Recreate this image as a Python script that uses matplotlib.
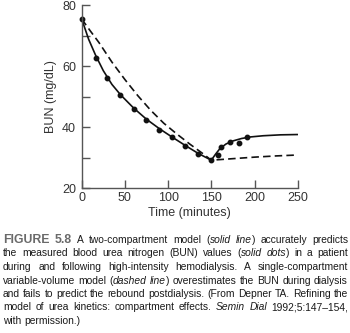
import matplotlib
matplotlib.use("Agg")
import matplotlib.pyplot as plt
from matplotlib import font_manager as fm
from matplotlib.font_manager import FontProperties
from matplotlib.ticker import MultipleLocator

# ---------------- data ----------------
dot_t = [0, 16, 29, 44, 60, 74.5, 89.5, 104, 120, 134.6, 150, 157.4, 161.6, 171.7, 181.7, 191.7]
dot_bun = [75.4, 62.7, 56.0, 50.4, 46.1, 42.3, 39.1, 36.9, 34.0, 31.2, 29.2, 30.9, 33.6, 35.3, 34.7, 36.9]

solid_t = [0, 8, 16, 25, 35, 45, 60, 75, 90, 105, 120, 135, 150, 155, 160, 167, 175, 185, 195, 210, 230, 250]
solid_bun = [75.4, 68.8, 63.6, 58.5, 54.0, 50.6, 46.3, 42.6, 39.5, 36.7, 34.0, 31.4, 29.2,
             31.2, 33.0, 34.5, 35.5, 36.3, 36.8, 37.2, 37.5, 37.6]

dashed_t = [0, 10, 20, 35, 50, 65, 80, 95, 110, 125, 140, 150, 175, 200, 225, 250]
dashed_bun = [75.4, 71.5, 67.7, 61.3, 55.6, 50.3, 45.5, 41.3, 37.8, 34.5, 31.4, 29.2,
              29.7, 30.2, 30.6, 30.9]

x_ticks = [0, 50, 100, 150, 200, 250]
y_ticks = [20, 40, 60, 80]
x_label = "Time (minutes)"
y_label = "BUN (mg/dL)"

caption_lines = [
    "#FIGURE 5.8# A two-compartment model (_solid line_) accurately predicts",
    "the measured blood urea nitrogen (BUN) values (_solid dots_) in a patient",
    "during and following high-intensity hemodialysis. A single-compartment",
    "variable-volume model (_dashed line_) overestimates the BUN during dialysis",
    "and fails to predict the rebound postdialysis. (From Depner TA. Refining the",
    "model of urea kinetics: compartment effects. _Semin Dial_ 1992;5:147\u2013154,",
    "with permission.)",
]

# ---------------- figure ----------------
W, H = 350, 333
fig = plt.figure(figsize=(W / 100, H / 100), dpi=100)
ax = fig.add_axes([81.7 / W, 1 - 188.3 / H, 216 / W, 183.3 / H])

axis_col = "#555555"
text_col = "#333333"
plot_font = "Liberation Sans"

ax.plot(solid_t, solid_bun, color="#111111", lw=1.2, solid_capstyle="round")
ax.plot(dashed_t, dashed_bun, color="#111111", lw=1.2, dashes=(4.5, 2.5))
ax.plot(dot_t, dot_bun, "o", color="#111111", ms=3.2, clip_on=False)

ax.set_xlim(0, 250)
ax.set_ylim(20, 80)
ax.set_xticks(x_ticks)
ax.set_yticks(y_ticks)
ax.yaxis.set_minor_locator(MultipleLocator(10))
for s in ["top", "right"]:
    ax.spines[s].set_visible(False)
for s in ["left", "bottom"]:
    ax.spines[s].set_color(axis_col)
    ax.spines[s].set_linewidth(1.0)
ax.tick_params(axis="both", which="both", direction="in", color=axis_col, width=1.0,
               labelcolor=text_col, labelsize=9)
ax.tick_params(axis="both", which="major", length=5.5)
ax.tick_params(axis="y", which="minor", length=5.5)
ax.tick_params(axis="x", pad=2.5)
ax.tick_params(axis="y", pad=4)
for lab in ax.get_xticklabels() + ax.get_yticklabels():
    lab.set_family(plot_font)
ax.set_xlabel(x_label, family=plot_font, fontsize=9, color=text_col, labelpad=2)
ax.set_ylabel(y_label, family=plot_font, fontsize=9, color=text_col, labelpad=4)

# ---------------- caption (justified) ----------------
avail = {f.name for f in fm.fontManager.ttflist}
cap_family = "Liberation Sans Narrow" if "Liberation Sans Narrow" in avail else "Liberation Sans"
cap_size = 9.0 if cap_family == "Liberation Sans Narrow" else 7.4

renderer = fig.canvas.get_renderer()


def width(s, prop):
    w, h, d = renderer.get_text_width_height_descent(s, prop, ismath=False)
    return w


# size the bold label so that "FIGURE 5.8" spans ~67 px as in the reference
_bp = FontProperties(family="Liberation Sans", size=10, weight="bold")
bold_size = 10 * 67.0 / width("FIGURE 5.8", _bp)


def parse(line):
    words = []
    italic = False
    bold = False
    for w in line.split(" "):
        runs = []
        cur = ""
        for ch in w:
            if ch in "_#":
                if cur:
                    runs.append((cur, italic, bold))
                    cur = ""
                if ch == "_":
                    italic = not italic
                else:
                    bold = not bold
            else:
                cur += ch
        if cur:
            runs.append((cur, italic, bold))
        words.append(runs)
    return words


def prop_for(italic, bold):
    if bold:
        return FontProperties(family="Liberation Sans", size=bold_size, weight="bold")
    return FontProperties(family=cap_family, size=cap_size,
                          style="italic" if italic else "normal")


x_left, x_right = 3.0, 348.0
base0 = 243.0
step = 13.5
space_w = width("a b", prop_for(False, False)) - width("ab", prop_for(False, False))

for i, line in enumerate(caption_lines):
    words = parse(line)
    wlist = []
    for runs in words:
        wlist.append(sum(width(t, prop_for(it, b)) for t, it, b in runs))
    total = sum(wlist)
    if i < len(caption_lines) - 1 and len(words) > 1:
        gap = (x_right - x_left - total) / (len(words) - 1)
    else:
        gap = space_w
    y = 1 - (base0 + i * step) / H
    x = x_left
    for runs, ww in zip(words, wlist):
        xx = x
        for t, it, b in runs:
            p = prop_for(it, b)
            fig.text(xx / W, y, t, fontproperties=p, va="baseline", ha="left",
                     color="#6a6a6a" if b else "#1a1a1a")
            xx += width(t, p)
        x += ww + gap

fig.savefig("out.png", dpi=100)
